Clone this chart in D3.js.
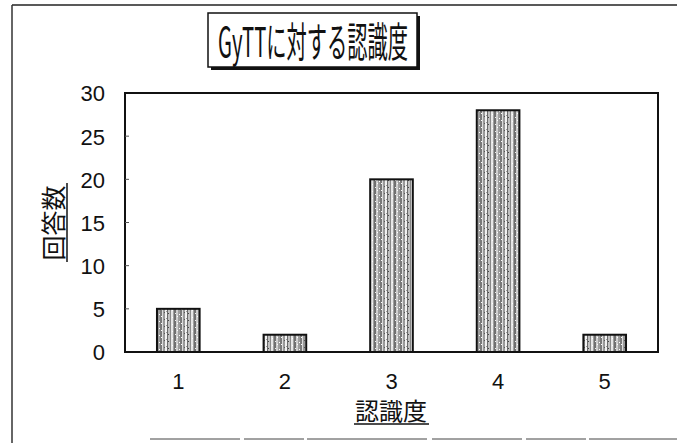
<!DOCTYPE html>
<html>
<head>
<meta charset="utf-8">
<script src="https://cdn.jsdelivr.net/npm/d3@7"></script>
<style>
  html, body { margin: 0; padding: 0; background: #fff; }
  svg { display: block; }
  text { fill: #111; }
</style>
</head>
<body>
<svg id="chart" width="677" height="443"></svg>
<script>
// Survey responses by awareness level
const categories = ["1", "2", "3", "4", "5"];
const counts = [5, 2, 20, 28, 2];
const yTicks = [0, 5, 10, 15, 20, 25, 30];
const titleText = "GyTTに対する認識度";
const xTitle = "認識度";
const yTitle = "回答数";

const svg = d3.select("#chart");
const plot = { left: 125, right: 658, top: 93, bottom: 352 };

const defs = svg.append("defs");
// Grainy striped fill for the bars
const pat = defs.append("pattern")
  .attr("id", "grain").attr("patternUnits", "userSpaceOnUse")
  .attr("width", 20).attr("height", 7);
const stripes = [
  [0, 2, "#7a7a7a"], [2, 1, "#dcdcdc"], [3, 2, "#9a9a9a"], [5, 2, "#f2f2f2"],
  [7, 1, "#6a6a6a"], [8, 2, "#c0c0c0"], [10, 1, "#888"], [11, 2, "#e6e6e6"],
  [13, 1, "#a0a0a0"], [14, 2, "#707070"], [16, 2, "#d0d0d0"], [18, 2, "#9c9c9c"]
];
stripes.forEach(([x, w, c]) => pat.append("rect").attr("x", x).attr("y", 0).attr("width", w).attr("height", 7).attr("fill", c));
[[1, 1, "#fff"], [8, 5, "#444"], [12, 2, "#fff"], [4, 4, "#555"], [17, 1, "#fff"], [15, 5, "#eee"], [6, 3, "#999"], [19, 6, "#fff"]]
  .forEach(([x, y, c]) => pat.append("rect").attr("x", x).attr("y", y).attr("width", 1).attr("height", 1).attr("fill", c));

// Outer chart border
svg.append("line").attr("x1", 12).attr("y1", 5).attr("x2", 677).attr("y2", 5).attr("stroke", "#222").attr("stroke-width", 1.5);
svg.append("line").attr("x1", 12).attr("y1", 5).attr("x2", 12).attr("y2", 443).attr("stroke", "#333").attr("stroke-width", 1.5);
svg.append("line").attr("x1", 150).attr("y1", 439).attr("x2", 677).attr("y2", 439).attr("stroke", "#444").attr("stroke-width", 1).attr("stroke-dasharray", "90 4 60 3 120 5");

// Title box with drop shadow
const tb = { x: 208, y: 13, w: 209, h: 54 };
svg.append("rect").attr("x", tb.x + 3).attr("y", tb.y + 3).attr("width", tb.w).attr("height", tb.h).attr("fill", "#111");
svg.append("rect").attr("x", tb.x).attr("y", tb.y).attr("width", tb.w).attr("height", tb.h)
  .attr("fill", "#fff").attr("stroke", "#111").attr("stroke-width", 1.5);
svg.append("text")
  .attr("x", tb.x + 10).attr("y", tb.y + 44)
  .attr("font-family", "'Noto Sans CJK JP', 'Liberation Sans', sans-serif")
  .attr("font-size", 41)
  .attr("textLength", 190).attr("lengthAdjust", "spacingAndGlyphs")
  .text(titleText);

// Scales
const x = d3.scaleBand().domain(categories).range([plot.left, plot.right]).paddingInner(0.6).paddingOuter(0.3);
const y = d3.scaleLinear().domain([0, 30]).range([plot.bottom, plot.top]);

// Plot frame
svg.append("rect")
  .attr("x", plot.left).attr("y", plot.top)
  .attr("width", plot.right - plot.left).attr("height", plot.bottom - plot.top)
  .attr("fill", "#fff").attr("stroke", "#111").attr("stroke-width", 2);

// Y axis labels
const yAxis = d3.axisLeft(y).tickValues(yTicks).tickSize(0).tickPadding(20);
const gy = svg.append("g").attr("transform", `translate(${plot.left},0)`).call(yAxis);
gy.select(".domain").remove();
gy.selectAll("text")
  .attr("font-family", "'Liberation Sans', Arial, sans-serif")
  .attr("font-size", 22).attr("fill", "#111")
  .attr("dy", "0.36em");

// Small inner tick marks
svg.append("g").selectAll("line").data(yTicks.slice(1, -1)).join("line")
  .attr("x1", plot.left).attr("x2", plot.left + 4)
  .attr("y1", d => y(d)).attr("y2", d => y(d))
  .attr("stroke", "#555").attr("stroke-width", 1);

// Bars
svg.append("g").selectAll("rect").data(counts).join("rect")
  .attr("x", (d, i) => x(categories[i]))
  .attr("y", d => y(d))
  .attr("width", x.bandwidth())
  .attr("height", d => y(0) - y(d))
  .attr("fill", "url(#grain)")
  .attr("stroke", "#111").attr("stroke-width", 2);

// Baseline redraw
svg.append("line").attr("x1", plot.left).attr("x2", plot.right).attr("y1", plot.bottom).attr("y2", plot.bottom)
  .attr("stroke", "#111").attr("stroke-width", 2);

// X axis labels
const xAxis = d3.axisBottom(x).tickSize(0).tickPadding(21);
const gx = svg.append("g").attr("transform", `translate(0,${plot.bottom})`).call(xAxis);
gx.select(".domain").remove();
gx.selectAll("text")
  .attr("font-family", "'Liberation Sans', Arial, sans-serif")
  .attr("font-size", 22).attr("fill", "#111");

// Axis titles (underlined)
svg.append("text")
  .attr("x", 391).attr("y", 420)
  .attr("text-anchor", "middle")
  .attr("font-family", "'Noto Sans CJK JP', sans-serif")
  .attr("font-size", 24)
  .text(xTitle);
svg.append("line").attr("x1", 354).attr("x2", 429).attr("y1", 424).attr("y2", 424).attr("stroke", "#111").attr("stroke-width", 1.5);

svg.append("text")
  .attr("transform", "translate(63,223) rotate(-90)")
  .attr("text-anchor", "middle")
  .attr("font-family", "'Noto Sans CJK JP', sans-serif")
  .attr("font-size", 25)
  .text(yTitle);
svg.append("line").attr("x1", 67).attr("x2", 67).attr("y1", 183).attr("y2", 262).attr("stroke", "#111").attr("stroke-width", 1.5);
</script>
</body>
</html>
